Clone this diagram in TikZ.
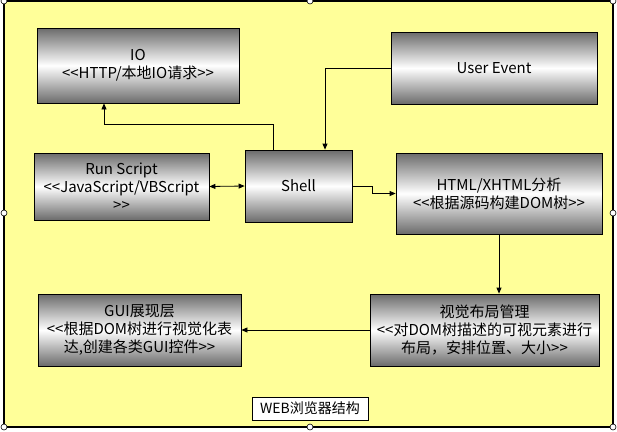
\documentclass[tikz,border=0pt]{standalone}
\usepackage{fontspec}
\setmainfont{Noto Sans CJK SC}
\usetikzlibrary{arrows.meta}
\definecolor{bgyellow}{RGB}{255,255,153}

\begin{document}
\begin{tikzpicture}[x=1pt,y=-1pt,
    box/.style={draw,line width=0.8pt,top color=black!58,bottom color=black!58,middle color=white,
        align=center,inner sep=1pt,font=\fontsize{15}{18}\selectfont},
    arr/.style={line width=0.8pt,-{Triangle[length=6pt,width=5pt]}},
    dblarr/.style={line width=0.8pt,{Triangle[length=6pt,width=5pt]}-{Triangle[length=6pt,width=5pt]}},
    handle/.style={draw,fill=white,line width=0.6pt}]
    % 画布大小
    \useasboundingbox (0,0) rectangle (617,431);

    % 外框（黄色背景）
    \draw[fill=bgyellow,line width=1.2pt] (4,1) rectangle (613,427);

    % 各模块方框
    \node[box,minimum width=202pt,minimum height=75pt] (io) at (138,65.5)
        {IO\\<{}<HTTP/本地IO请求>{}>};
    \node[box,minimum width=206pt,minimum height=72pt] (user) at (494,68)
        {User Event};
    \node[box,minimum width=175pt,minimum height=67pt] (run) at (121.5,186.5)
        {Run Script\\<{}<JavaScript/VBScript\\>{}>};
    \node[box,minimum width=107pt,minimum height=72pt] (shell) at (298.5,186)
        {Shell};
    \node[box,minimum width=206pt,minimum height=81pt] (html) at (499,193.5)
        {HTML/XHTML分析\\<{}<根据源码构建DOM树>{}>};
    \node[box,minimum width=229pt,minimum height=72pt] (layout) at (484.5,330)
        {视觉布局管理\\<{}<对DOM树描述的可视元素进行\\布局，安排位置、大小>{}>};
    \node[box,minimum width=203pt,minimum height=72pt] (gui) at (139.5,330)
        {GUI展现层\\<{}<根据DOM树进行视觉化表\\达,创建各类GUI控件>{}>};

    % 标题
    \node[draw,fill=white,line width=0.8pt,minimum width=116pt,minimum height=23pt,inner sep=1pt,
        font=\fontsize{14}{16}\selectfont] (title) at (310,408.5) {WEB浏览器结构};

    % 连线
    \draw[arr] ([xshift=-25.5pt]shell.north) -- ++(0,-25) -| ([xshift=-34pt]io.south);
    \draw[arr] (user.west) -| ([xshift=26.5pt]shell.north);
    \draw[dblarr] (run.east) -- (shell.west);
    \draw[arr] (shell.east) -- ++(20,0) |- (html.west);
    \draw[arr] (html.south) -- (html.south |- layout.north);
    \draw[arr] (layout.west) -- (gui.east);

    % 选择框手柄
    \foreach \hx/\hy in {4/1,310/1,613/1,4/213,613/213,4/427,310/427,613/427}
        \draw[handle] (\hx,\hy) circle (3pt);
\end{tikzpicture}
\end{document}
